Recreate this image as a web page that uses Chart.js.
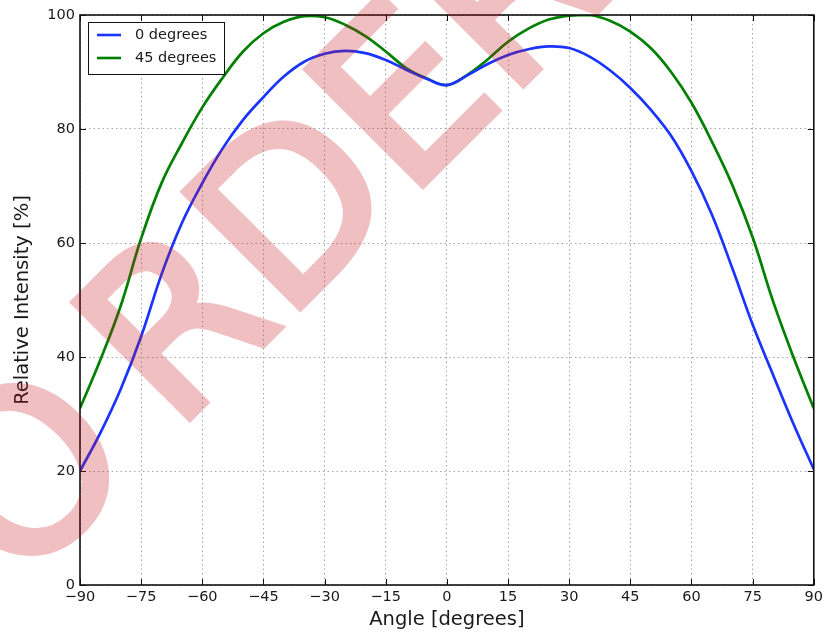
<!DOCTYPE html>
<html>
<head>
<meta charset="utf-8">
<title>Relative Intensity</title>
<script src="https://cdn.jsdelivr.net/npm/chart.js@4.4.0/dist/chart.umd.min.js"></script>
<style>
  body { margin: 0; background: #fff; }
  canvas { display: block; }
</style>
</head>
<body>
<canvas id="myChart" width="827" height="634"></canvas>
<script>
const angles = [
  -90, -85, -80, -75, -70, -65, -60, -55, -50, -45, -40, -35, -30, -25, -20, -15, -10, -5,
  0, 5, 10, 15, 20, 25, 30, 35, 40, 45, 50, 55, 60, 65, 70, 75, 80, 85, 90,
];
const zeroDegrees = [
  20, 26.7, 34.4, 43.6, 54.5, 63.5, 70.5, 76.6, 81.6, 85.6, 89.2, 91.8, 93.2, 93.7, 93.3, 92.1, 90.4, 88.8,
  87.7, 89.4, 91.4, 93, 94, 94.5, 94.2, 92.7, 90.3, 87.2, 83.4, 78.8, 72.6, 65, 55.6, 45.7, 36.9, 28.3, 20.3,
];
const fortyFiveDegrees = [
  31, 39.5, 49, 60.8, 70.5, 77.5, 83.8, 89, 93.6, 96.8, 98.8, 99.8, 99.6, 98.3, 96.3, 93.6, 90.7, 88.9,
  87.7, 89.5, 92.2, 95.3, 97.6, 99.2, 99.9, 100, 99, 97.1, 94.2, 90, 84.6, 77.8, 70.2, 61, 49.8, 40, 31,
];
const xTicks = [-90, -75, -60, -45, -30, -15, 0, 15, 30, 45, 60, 75, 90];
const yTicks = [0, 20, 40, 60, 80, 100];
const seriesLabels = ['0 degrees', '45 degrees'];
const seriesColors = ['#1a33ff', '#008000'];

const fontFamily = "'DejaVu Sans', sans-serif";
const textColor = '#1a1a1a';
const ctx = document.getElementById('myChart');

function toPoints(values) {
  return angles.map((a, i) => ({ x: a, y: values[i] }));
}

//etiquetas con signo menos tipografico
function formatTick(value) {
  return value < 0 ? '\u2212' + Math.abs(value) : String(value);
}

//marco negro y ticks hacia adentro en los cuatro lados
const axesFrame = {
  id: 'axesFrame',
  afterDatasetsDraw(chart) {
    const { ctx, chartArea, scales } = chart;
    const { left, right, top, bottom } = chartArea;
    const len = 6;
    ctx.save();
    ctx.strokeStyle = '#111';
    ctx.lineWidth = 1;
    ctx.beginPath();
    scales.x.ticks.forEach((t) => {
      const px = Math.round(scales.x.getPixelForValue(t.value)) + 0.5;
      ctx.moveTo(px, bottom);
      ctx.lineTo(px, bottom - len);
      ctx.moveTo(px, top);
      ctx.lineTo(px, top + len);
    });
    scales.y.ticks.forEach((t) => {
      const py = Math.round(scales.y.getPixelForValue(t.value)) + 0.5;
      ctx.moveTo(left, py);
      ctx.lineTo(left + len, py);
      ctx.moveTo(right, py);
      ctx.lineTo(right - len, py);
    });
    ctx.stroke();
    ctx.lineWidth = 1.6;
    ctx.strokeRect(left, top, right - left, bottom - top);
    ctx.restore();
  },
};

//leyenda con caja en la esquina superior izquierda
const boxLegend = {
  id: 'boxLegend',
  afterDatasetsDraw(chart) {
    const { ctx, chartArea } = chart;
    const x0 = chartArea.left + 8;
    const y0 = chartArea.top + 7;
    const rowH = 23;
    ctx.save();
    ctx.fillStyle = '#fff';
    ctx.strokeStyle = '#111';
    ctx.lineWidth = 1;
    ctx.fillRect(x0, y0, 136, 52);
    ctx.strokeRect(x0 + 0.5, y0 + 0.5, 136, 52);
    ctx.font = '14.5px ' + fontFamily;
    ctx.textBaseline = 'middle';
    chart.data.datasets.forEach((ds, i) => {
      const ly = y0 + 13 + i * rowH;
      ctx.strokeStyle = ds.borderColor;
      ctx.lineWidth = 2.6;
      ctx.beginPath();
      ctx.moveTo(x0 + 9, ly);
      ctx.lineTo(x0 + 33, ly);
      ctx.stroke();
      ctx.fillStyle = textColor;
      ctx.fillText(ds.label, x0 + 47, ly);
    });
    ctx.restore();
  },
};

//marca de agua en diagonal, pintada opaca aparte y luego con transparencia
const watermark = {
  id: 'watermark',
  afterDraw(chart) {
    const { ctx, width, height } = chart;
    const layer = document.createElement('canvas');
    layer.width = width;
    layer.height = height;
    const lc = layer.getContext('2d');
    lc.translate(49, 559);
    lc.rotate(-Math.PI / 4);
    lc.font = '225px ' + fontFamily;
    lc.fillStyle = 'rgb(200, 20, 30)';
    lc.strokeStyle = 'rgb(200, 20, 30)';
    lc.lineWidth = 7;
    lc.lineJoin = 'miter';
    const oWidth = lc.measureText('O').width;
    lc.fillText('O', -44, 0);
    lc.strokeText('O', -44, 0);
    lc.fillText('RDER', oWidth, 0);
    lc.strokeText('RDER', oWidth, 0);
    ctx.save();
    ctx.globalAlpha = 0.27;
    ctx.drawImage(layer, 0, 0);
    ctx.restore();
  },
};

const myChart = new Chart(ctx, {
  type: 'line',
  data: {
    datasets: [
      {
        label: seriesLabels[0],
        data: toPoints(zeroDegrees),
        borderColor: seriesColors[0],
        borderWidth: 2.7,
        pointRadius: 0,
        tension: 0.4,
      },
      {
        label: seriesLabels[1],
        data: toPoints(fortyFiveDegrees),
        borderColor: seriesColors[1],
        borderWidth: 2.7,
        pointRadius: 0,
        tension: 0.4,
      },
    ],
  },
  options: {
    responsive: false,
    animation: false,
    devicePixelRatio: 1,
    layout: { padding: { left: 0, right: 10, top: 15, bottom: 0 } },
    plugins: {
      legend: { display: false },
      tooltip: { enabled: false },
    },
    scales: {
      x: {
        type: 'linear',
        min: -90,
        max: 90,
        afterBuildTicks: (scale) => {
          scale.ticks = xTicks.map((v) => ({ value: v }));
        },
        afterFit: (scale) => {
          scale.height = 49;
        },
        grid: { color: '#a6a6a6', lineWidth: 1, drawTicks: false },
        border: { display: false, dash: [1.5, 3] },
        ticks: {
          padding: 4,
          maxRotation: 0,
          color: textColor,
          font: { family: fontFamily, size: 14.5 },
          callback: formatTick,
        },
        title: {
          display: true,
          text: 'Angle [degrees]',
          color: textColor,
          font: { family: fontFamily, size: 19.5 },
          padding: { top: 0, bottom: 2 },
        },
      },
      y: {
        min: 0,
        max: 100,
        afterBuildTicks: (scale) => {
          scale.ticks = yTicks.map((v) => ({ value: v }));
        },
        afterFit: (scale) => {
          scale.width = 80;
        },
        grid: { color: '#a6a6a6', lineWidth: 1, drawTicks: false },
        border: { display: false, dash: [1.5, 3] },
        ticks: {
          padding: 5,
          color: textColor,
          font: { family: fontFamily, size: 14.5 },
          callback: formatTick,
        },
        title: {
          display: true,
          text: 'Relative Intensity [%]',
          color: textColor,
          font: { family: fontFamily, size: 19.5 },
          padding: { top: 11, bottom: 0 },
        },
      },
    },
  },
  plugins: [axesFrame, boxLegend, watermark],
});
</script>
</body>
</html>
